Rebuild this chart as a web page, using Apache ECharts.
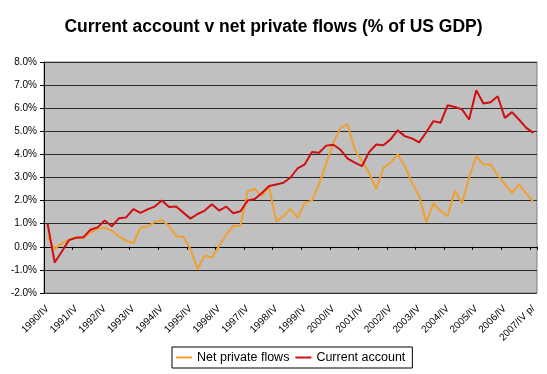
<!DOCTYPE html>
<html>
<head>
<meta charset="utf-8">
<script src="https://cdn.jsdelivr.net/npm/echarts@6/dist/echarts.min.js"></script>
<style>
html,body{margin:0;padding:0;background:#fff;}
#chart{width:547px;height:374px;}
</style>
</head>
<body>
<div id="chart"></div>
<script>
var categories = [
"1990/IV",
"1991/I","1991/II","1991/III","1991/IV",
"1992/I","1992/II","1992/III","1992/IV",
"1993/I","1993/II","1993/III","1993/IV",
"1994/I","1994/II","1994/III","1994/IV",
"1995/I","1995/II","1995/III","1995/IV",
"1996/I","1996/II","1996/III","1996/IV",
"1997/I","1997/II","1997/III","1997/IV",
"1998/I","1998/II","1998/III","1998/IV",
"1999/I","1999/II","1999/III","1999/IV",
"2000/I","2000/II","2000/III","2000/IV",
"2001/I","2001/II","2001/III","2001/IV",
"2002/I","2002/II","2002/III","2002/IV",
"2003/I","2003/II","2003/III","2003/IV",
"2004/I","2004/II","2004/III","2004/IV",
"2005/I","2005/II","2005/III","2005/IV",
"2006/I","2006/II","2006/III","2006/IV",
"2007/I","2007/II","2007/III","2007/IV p/"
];

var netPrivateFlows = [
0.46,
-0.10, 0.15, 0.30, 0.42,
0.37, 0.62, 0.78, 0.82,
0.70, 0.45, 0.27, 0.15,
0.83, 0.88, 1.08, 1.15,
0.90, 0.46, 0.43, -0.11,
-0.97, -0.37, -0.47, 0.03,
0.53, 0.90, 0.91, 2.40,
2.50, 2.20, 2.60, 1.10,
1.32, 1.64, 1.25, 1.90,
2.00, 2.70, 3.60, 4.50,
5.15, 5.30, 4.20, 3.70,
3.20, 2.50, 3.42, 3.64,
4.00, 3.50, 2.77, 2.20,
1.07, 1.88, 1.55, 1.33,
2.44, 1.88, 3.00, 3.92,
3.56, 3.56, 3.10, 2.70,
2.34, 2.70, 2.30, 1.93
];

var currentAccount = [
1.00,
-0.68, -0.20, 0.29, 0.39,
0.41, 0.74, 0.84, 1.14,
0.89, 1.24, 1.27, 1.63,
1.47, 1.62, 1.74, 2.00,
1.72, 1.74, 1.48, 1.22,
1.42, 1.57, 1.84, 1.57,
1.74, 1.45, 1.54, 2.00,
2.07, 2.33, 2.63, 2.70,
2.77, 3.00, 3.40, 3.57,
4.10, 4.07, 4.38, 4.42,
4.20, 3.82, 3.64, 3.49,
4.10, 4.43, 4.40, 4.65,
5.04, 4.79, 4.69, 4.52,
4.96, 5.44, 5.37, 6.13,
6.05, 5.95, 5.51, 6.78,
6.20, 6.26, 6.52, 5.58,
5.83, 5.50, 5.15, 4.93
];

var seriesNames = ["Net private flows", "Current account"];
var titleText = "Current account v net private flows (% of US GDP)";

var FONT = "'Liberation Sans', Arial, sans-serif";
var chart = echarts.init(document.getElementById('chart'), null, {renderer: 'canvas'});
chart.setOption({
  animation: false,
  backgroundColor: '#ffffff',
  title: {
    text: titleText,
    left: 'center',
    top: 13,
    textStyle: {fontFamily: FONT, fontSize: 17.5, fontWeight: 'bold', color: '#000'}
  },
  legend: {
    data: seriesNames,
    left: 172,
    top: 347,
    orient: 'horizontal',
    icon: 'rect',
    itemWidth: 16,
    itemHeight: 2,
    itemGap: 6,
    padding: [4, 7, 4, 4],
    borderColor: '#000',
    borderWidth: 1,
    backgroundColor: '#fff',
    textStyle: {fontFamily: FONT, fontSize: 12.5, color: '#000'}
  },
  grid: {
    left: 44, right: 10, top: 62, bottom: 81,
    show: true,
    backgroundColor: '#c0c0c0',
    borderColor: '#808080',
    borderWidth: 1,
    containLabel: false
  },
  xAxis: [{
    type: 'category',
    data: categories,
    boundaryGap: true,
    position: 'bottom',
    axisLine: {show: false, onZero: false},
    axisTick: {show: false},
    splitLine: {show: false},
    axisLabel: {
      interval: 3,
      rotate: 45,
      margin: 14,
      fontFamily: FONT,
      fontSize: 10,
      color: '#000'
    }
  }, {
    type: 'category',
    data: categories,
    boundaryGap: true,
    position: 'bottom',
    axisLine: {show: true, onZero: true, lineStyle: {color: '#000', width: 1}},
    axisTick: {show: true, interval: 3, length: 3, inside: false, lineStyle: {color: '#000'}},
    axisLabel: {show: false},
    splitLine: {show: false}
  }],
  yAxis: {
    type: 'value',
    min: -2, max: 8, interval: 1,
    axisLine: {show: true, lineStyle: {color: '#000', width: 1}},
    axisTick: {show: true, length: 4, lineStyle: {color: '#000'}},
    splitLine: {show: true, lineStyle: {color: '#2a2a2a', width: 1}},
    axisLabel: {
      fontFamily: FONT, fontSize: 10, color: '#000', margin: 7,
      formatter: function (v) { return v.toFixed(1) + '%'; }
    }
  },
  series: [{
    name: seriesNames[0],
    type: 'line',
    xAxisIndex: 0,
    data: netPrivateFlows,
    symbol: 'none',
    lineStyle: {color: '#f0a030', width: 2},
    itemStyle: {color: '#f0a030'},
    z: 3
  }, {
    name: seriesNames[1],
    type: 'line',
    xAxisIndex: 0,
    data: currentAccount,
    symbol: 'none',
    lineStyle: {color: '#d01010', width: 2},
    itemStyle: {color: '#d01010'},
    z: 4
  }]
});
</script>
</body>
</html>
